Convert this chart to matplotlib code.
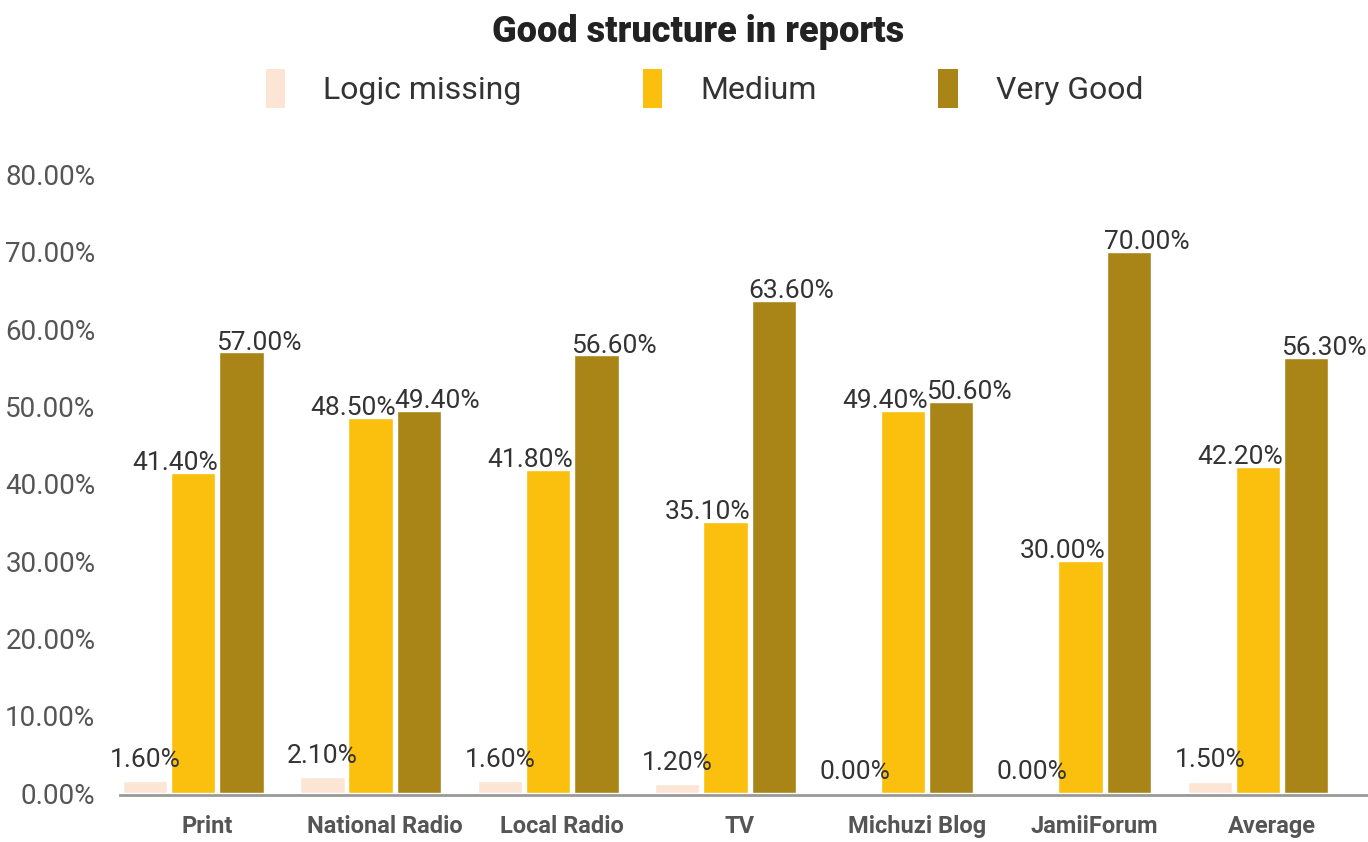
import numpy as np
import matplotlib.pyplot as plt
from matplotlib.patches import Patch

plt.rcParams['font.family'] = ['Roboto', 'DejaVu Sans']

categories = ["Print", "National Radio", "Local Radio", "TV",
              "Michuzi Blog", "JamiiForum", "Average"]
logic_missing = [1.6, 2.1, 1.6, 1.2, 0.0, 0.0, 1.5]
medium = [41.4, 48.5, 41.8, 35.1, 49.4, 30.0, 42.2]
very_good = [57.0, 49.4, 56.6, 63.6, 50.6, 70.0, 56.3]

series = [("Logic missing", logic_missing, "#FDE5D6"),
          ("Medium", medium, "#FAC00D"),
          ("Very Good", very_good, "#A98416")]

fig = plt.figure(figsize=(13.68, 8.42), dpi=100)
ax = fig.add_axes([0.088, 0.058, 0.912, 0.735])

for side in ["top", "right", "left"]:
    ax.spines[side].set_visible(False)
ax.spines["bottom"].set_color("#999999")
ax.spines["bottom"].set_linewidth(2)
ax.spines["bottom"].set_position(("data", -0.3))

x = np.arange(len(categories))
width = 0.25
step = 0.272
# nudge labels of neighbouring bars apart so they don't collide
label_shift = [0.0, -0.1, 0.1]
label_lift = [1.2, -0.3, -0.3]

for i, (name, vals, color) in enumerate(series):
    pos = x + (i - 1) * step
    ax.bar(pos, vals, width, color=color, edgecolor="white",
           linewidth=1, label=name)
    for xi, v in zip(pos, vals):
        ax.text(xi + label_shift[i], v + label_lift[i], f"{v:.2f}%",
                ha="center", va="bottom", fontsize=19, color="#333333")

ax.set_xlim(-0.41, 6.62)
ax.set_ylim(0, 80)
ax.set_yticks(range(0, 81, 10))
ax.set_yticklabels([f"{t:.2f}%" for t in range(0, 81, 10)],
                   fontsize=20, color="#555555")
ax.set_xticks(x + 0.08)
ax.set_xticklabels(categories, fontsize=17, fontweight="bold", color="#555555")
ax.tick_params(axis="both", length=0)
ax.tick_params(axis="x", pad=14)
ax.tick_params(axis="y", pad=18)

fig.text(0.51, 0.962, "Good structure in reports", ha="center", va="center",
         fontsize=26, fontweight="heavy", color="#222222")

handles = [Patch(facecolor=c, edgecolor="none") for _, _, c in series]
fig.legend(handles, [n for n, _, _ in series], loc="center",
           bbox_to_anchor=(0.515, 0.895), ncol=3, frameon=False,
           fontsize=23, handlelength=0.6, handleheight=1.5,
           handletextpad=1.2, columnspacing=3.8, labelcolor="#333333")

fig.savefig("out.png", dpi=100)
